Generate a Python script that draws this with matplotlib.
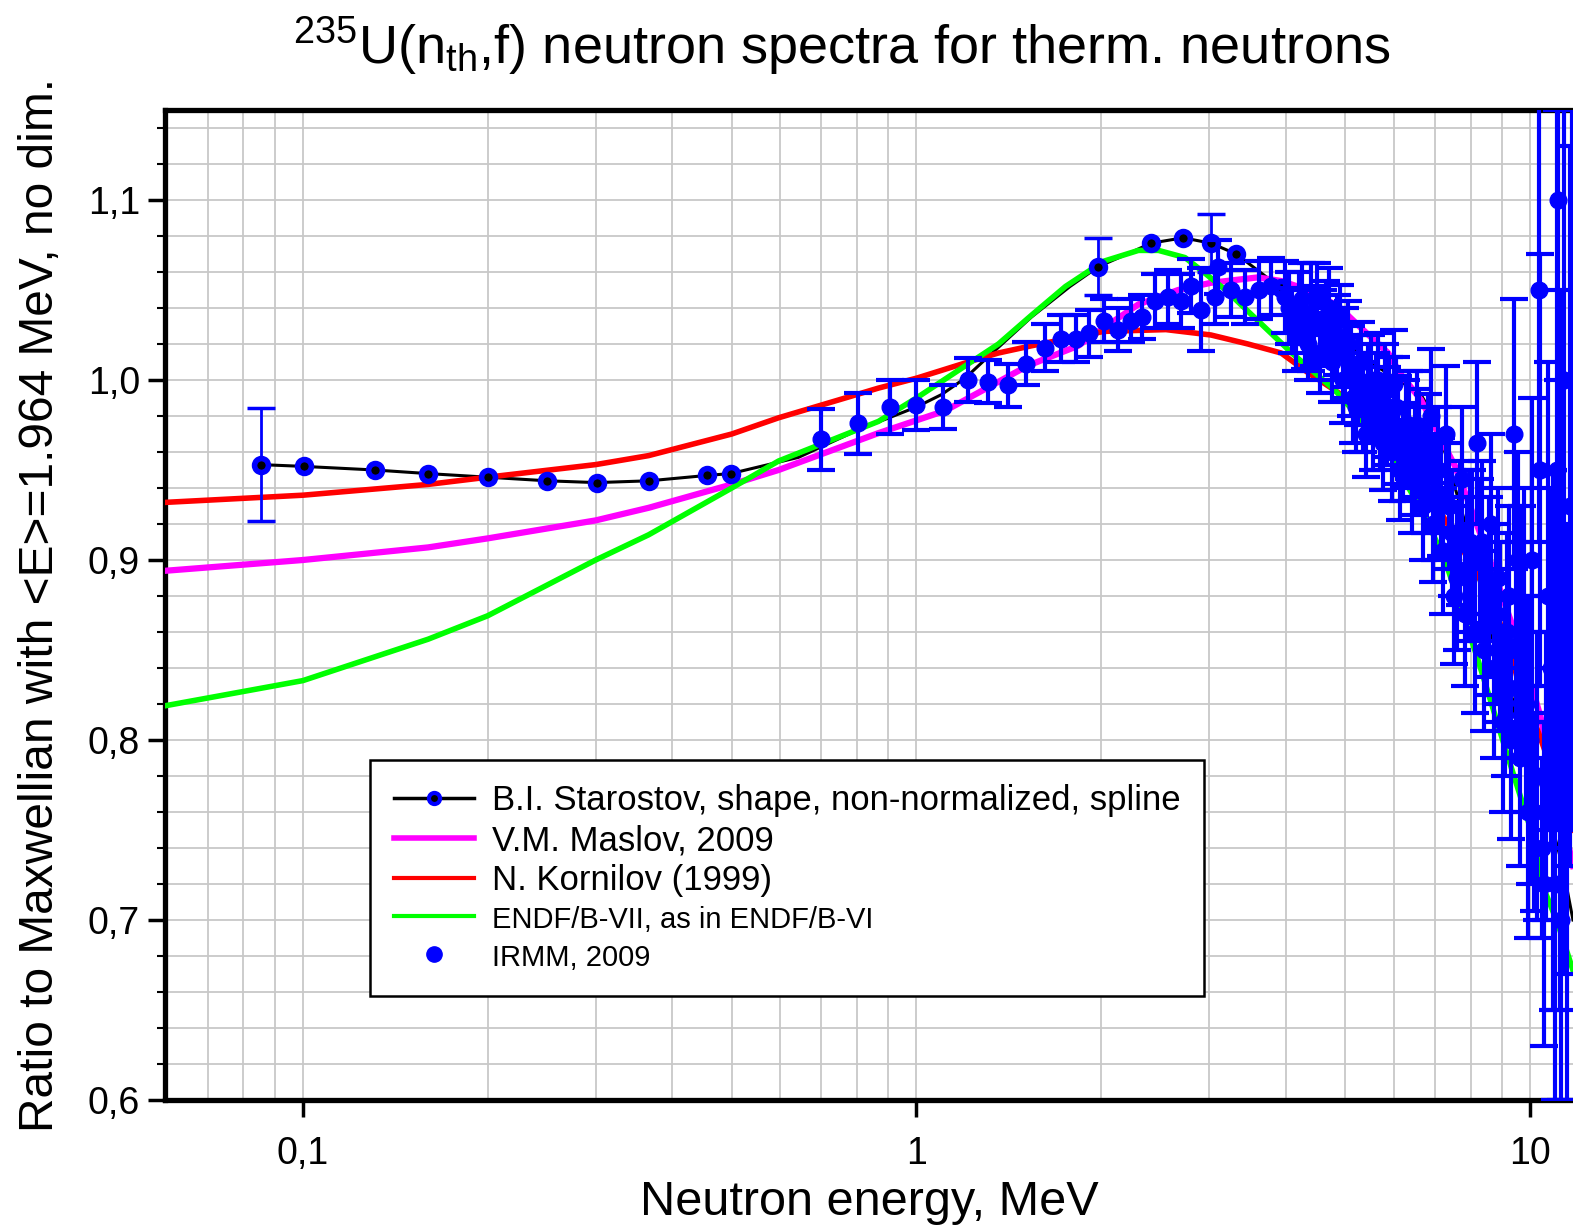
import matplotlib
matplotlib.use("Agg")
import matplotlib.pyplot as plt
from matplotlib.lines import Line2D
from matplotlib.ticker import FixedLocator, MultipleLocator, LogLocator, FuncFormatter, NullFormatter

plt.rcParams['font.family'] = ['Liberation Sans', 'DejaVu Sans']
plt.rcParams['mathtext.fontset'] = 'custom'
plt.rcParams['mathtext.rm'] = 'Liberation Sans'
plt.rcParams['mathtext.it'] = 'Liberation Sans'

# V.M. Maslov, 2009
e_maslov = [0.0596, 0.1, 0.16, 0.2, 0.3, 0.366, 0.5, 0.596, 0.867, 1.115, 1.36, 1.52, 1.835,
            1.98, 2.3, 2.67, 3.02, 3.6, 3.93, 4.35, 4.87, 5.3, 5.87, 6.16, 6.64, 7.55, 8.5,
            9.75, 10.4, 11.3, 11.75]
r_maslov = [0.894, 0.900, 0.907, 0.912, 0.922, 0.929, 0.942, 0.950, 0.9705, 0.983, 0.999, 1.008,
            1.019, 1.027, 1.042, 1.050, 1.054, 1.057, 1.055, 1.050, 1.041, 1.029, 1.015, 1.003,
            0.989, 0.952, 0.905, 0.846, 0.813, 0.756, 0.730]

# N. Kornilov (1999)
e_korn = [0.0596, 0.1, 0.16, 0.2, 0.3, 0.366, 0.5, 0.596, 0.867, 1.0, 1.215, 1.36, 1.54, 2.02,
          2.55, 3.02, 3.47, 3.93, 4.35, 4.87, 5.92, 6.87, 7.28, 8.4, 9.22, 9.6, 10.3, 11.2, 11.75]
r_korn = [0.932, 0.936, 0.942, 0.946, 0.953, 0.958, 0.970, 0.979, 0.9955, 1.001, 1.010, 1.015,
          1.019, 1.027, 1.028, 1.025, 1.020, 1.015, 1.004, 0.993, 0.961, 0.937, 0.922, 0.886,
          0.854, 0.830, 0.805, 0.770, 0.750]

# ENDF/B-VII
e_endf = [0.0596, 0.1, 0.16, 0.2, 0.3, 0.366, 0.5, 0.596, 0.867, 1.0, 1.215, 1.36, 1.54, 1.75,
          2.02, 2.3, 2.48, 2.74, 2.96, 3.19, 3.6, 4.09, 4.82, 5.8, 6.75, 7.28, 7.55, 8.2, 9.1,
          9.95, 10.6, 11.1, 11.75]
r_endf = [0.819, 0.833, 0.856, 0.869, 0.900, 0.914, 0.940, 0.955, 0.977, 0.990, 1.009, 1.020,
          1.036, 1.052, 1.066, 1.072, 1.072, 1.068, 1.059, 1.050, 1.033, 1.015, 0.994, 0.963,
          0.924, 0.899, 0.883, 0.846, 0.796, 0.754, 0.715, 0.698, 0.672]

# B.I. Starostov spline (markers on measured points)
e_star = [0.0853, 0.1003, 0.131, 0.160, 0.200, 0.250, 0.301, 0.367, 0.456, 0.498, 0.642, 0.80,
          1.0, 1.1, 1.2, 1.3, 1.54, 1.78, 1.98, 2.24, 2.41, 2.72, 3.02, 3.32, 3.93, 4.30, 5.16,
          5.6, 6.64, 7.03, 8.0, 8.66, 9.22, 9.5, 9.64, 9.75, 10.4, 11.3, 11.75]
r_star = [0.953, 0.952, 0.950, 0.948, 0.946, 0.944, 0.943, 0.944, 0.947, 0.948, 0.957, 0.972,
          0.985, 0.992, 1.001, 1.012, 1.035, 1.052, 1.063, 1.071, 1.076, 1.079, 1.076, 1.070,
          1.051, 1.037, 1.017, 1.008, 0.992, 0.977, 0.910, 0.857, 0.829, 0.817, 0.806, 0.796,
          0.776, 0.730, 0.700]
star_marked = [0, 1, 2, 3, 4, 5, 6, 7, 8, 9, 18, 20, 21, 22, 23, 24, 32, 33, 34, 35]
e_star_err = [0.0853, 1.98, 3.02]
r_star_err = [0.953, 1.063, 1.076]
d_star_err = [0.0315, 0.016, 0.016]

# IRMM, 2009
e_irmm = [0.700, 0.804, 0.907, 1.0, 1.106, 1.215, 1.31, 1.41, 1.51, 1.62, 1.72, 1.82, 1.91, 2.02,
          2.13, 2.24, 2.33, 2.45, 2.57, 2.70, 2.80, 2.91, 3.07, 3.10, 3.26, 3.43, 3.61, 3.79,
          3.99, 4.1, 4.2, 4.3, 4.4, 4.5, 4.6, 4.7, 4.8, 4.9, 5.0, 5.1, 5.2, 5.3, 5.4, 5.5, 5.6,
          5.7, 5.8, 5.9, 6.0, 6.1, 6.2, 6.35, 6.5, 6.6, 6.75, 6.9, 7.0, 7.15, 7.3, 7.45, 7.6,
          7.75, 7.9, 8.05, 8.2, 8.35, 8.5, 8.65, 8.8, 8.95, 9.1, 9.25, 9.4, 9.55, 9.7, 9.85,
          10.0, 10.15, 10.33, 10.45, 10.6, 10.8, 11.0, 11.1, 11.25, 11.4, 11.6]
r_irmm = [0.967, 0.976, 0.985, 0.986, 0.985, 1.000, 0.999, 0.997, 1.009, 1.018, 1.023, 1.023,
          1.026, 1.033, 1.028, 1.033, 1.035, 1.044, 1.046, 1.044, 1.052, 1.039, 1.046, 1.063,
          1.050, 1.046, 1.050, 1.052, 1.046, 1.033, 1.040, 1.028, 1.035, 1.045, 1.030, 1.040,
          1.020, 1.035, 1.015, 1.005, 0.985, 1.010, 0.970, 1.000, 0.990, 0.975, 0.995, 0.985,
          0.998, 0.972, 0.960, 0.975, 0.955, 0.965, 0.945, 0.980, 0.935, 0.935, 0.970, 0.915,
          0.890, 0.945, 0.895, 0.905, 0.965, 0.910, 0.865, 0.920, 0.870, 0.860, 0.830, 0.880,
          0.970, 0.900, 0.860, 0.820, 0.800, 0.760, 1.050, 0.740, 0.780, 0.840, 0.720, 1.100,
          0.700, 0.790, 0.930]
d_irmm = [0.017, 0.017, 0.015, 0.014, 0.012, 0.012, 0.012, 0.012, 0.012, 0.013, 0.013, 0.013,
          0.013, 0.012, 0.012, 0.012, 0.012, 0.015, 0.015, 0.015, 0.015, 0.023, 0.015, 0.015,
          0.015, 0.015, 0.016, 0.016, 0.020, 0.018, 0.020, 0.022, 0.030, 0.020, 0.020, 0.022,
          0.020, 0.018, 0.025, 0.025, 0.025, 0.022, 0.024, 0.025, 0.025, 0.025, 0.025, 0.028,
          0.030, 0.030, 0.027, 0.030, 0.030, 0.030, 0.030, 0.037, 0.035, 0.033, 0.038, 0.035,
          0.040, 0.040, 0.040, 0.045, 0.045, 0.045, 0.040, 0.050, 0.050, 0.050, 0.050, 0.050,
          0.075, 0.060, 0.070, 0.060, 0.080, 0.055, 0.140, 0.050, 0.080, 0.100, 0.120, 0.100,
          0.100, 0.120, 0.200]

# IRMM, 2009 - further points in the dense high-energy part
e_irmm_hi = [4.05, 4.15, 4.25, 4.35, 4.45, 4.55, 4.65, 4.75, 4.85, 4.95, 5.05, 5.15, 5.25, 5.35,
             5.45, 5.55, 5.65, 5.75, 5.85, 5.95, 6.05, 6.15, 6.28, 6.42, 6.55, 6.68, 6.82, 6.95,
             7.08, 7.22, 7.38, 7.52, 7.68, 7.82, 7.98, 8.12, 8.28, 8.42, 8.58, 8.72, 8.88, 9.02,
             9.18, 9.32, 9.48, 9.62, 9.78, 9.92, 10.08, 10.25, 10.4, 10.55, 10.7, 10.9, 11.05,
             11.2, 11.35, 11.5, 11.7]
r_irmm_hi = [1.040, 1.025, 1.045, 1.020, 1.030, 1.015, 1.035, 1.010, 1.025, 1.000, 1.020, 0.990,
             1.000, 0.985, 0.995, 0.975, 1.000, 0.965, 0.980, 0.960, 0.985, 0.950, 0.970, 0.945,
             0.975, 0.930, 0.960, 0.920, 0.950, 0.905, 0.930, 0.880, 0.915, 0.870, 0.910, 0.860,
             0.900, 0.850, 0.885, 0.840, 0.890, 0.810, 0.860, 0.800, 0.850, 0.790, 0.870, 0.760,
             0.900, 0.780, 0.950, 0.720, 0.880, 0.800, 0.950, 0.850, 1.000, 0.760, 1.000]
d_irmm_hi = [0.020, 0.020, 0.020, 0.020, 0.022, 0.022, 0.020, 0.022, 0.022, 0.024, 0.024, 0.025,
             0.025, 0.025, 0.025, 0.025, 0.026, 0.026, 0.027, 0.027, 0.028, 0.028, 0.030, 0.030,
             0.030, 0.030, 0.032, 0.032, 0.035, 0.035, 0.035, 0.038, 0.040, 0.040, 0.040, 0.045,
             0.045, 0.045, 0.050, 0.050, 0.050, 0.050, 0.055, 0.055, 0.060, 0.060, 0.070, 0.070,
             0.090, 0.080, 0.120, 0.090, 0.130, 0.150, 0.200, 0.200, 0.200, 0.160, 0.250]

x_ticks = [0.1, 1, 10]
x_ticklabels = ['0,1', '1', '10']

fig = plt.figure(figsize=(15.73, 12.30), dpi=100)
ax = fig.add_axes([165 / 1573, 1 - 1100 / 1230, 1408 / 1573, 990 / 1230])

ax.set_xscale('log')
ax.set_xlim(0.0596, 11.75)
ax.set_ylim(0.6, 1.15)

blue = '#0000ff'
ax.plot(e_star, r_star, color='black', lw=2.2, zorder=3)
ax.plot(e_maslov, r_maslov, color='#ff00ff', lw=4.5, zorder=3.2)
ax.plot(e_korn, r_korn, color='#ff0000', lw=4, zorder=3.3)
ax.plot(e_endf, r_endf, color='#00ff00', lw=4, zorder=3.4)
ax.errorbar(e_star_err, r_star_err, yerr=d_star_err, fmt='none', ecolor=blue,
            elinewidth=2, capsize=10, capthick=2.5, zorder=3.5)
ax.plot([e_star[i] for i in star_marked], [r_star[i] for i in star_marked], 'o', ls='none',
        mfc='black', mec=blue, mew=4, ms=10, zorder=3.6)
ax.errorbar(e_irmm_hi, r_irmm_hi, yerr=d_irmm_hi, fmt='o', color=blue, ms=12, elinewidth=3,
            capsize=10, capthick=3, zorder=4)
ax.errorbar(e_irmm, r_irmm, yerr=d_irmm, fmt='o', color=blue, ms=12, elinewidth=3,
            capsize=10, capthick=3, zorder=4)

# grid and ticks
ax.xaxis.set_major_locator(FixedLocator(x_ticks))
ax.xaxis.set_major_formatter(FuncFormatter(lambda v, p: x_ticklabels[x_ticks.index(v)] if v in x_ticks else ''))
ax.xaxis.set_minor_locator(LogLocator(base=10, subs=range(2, 10)))
ax.xaxis.set_minor_formatter(NullFormatter())
ax.yaxis.set_major_locator(MultipleLocator(0.1))
ax.yaxis.set_minor_locator(MultipleLocator(0.02))
ax.yaxis.set_major_formatter(FuncFormatter(lambda v, p: f'{v:.1f}'.replace('.', ',')))
ax.grid(True, which='both', color='#c8c8c8', lw=1.3, zorder=0)
ax.set_axisbelow(True)
ax.tick_params(axis='both', which='major', labelsize=27, direction='out', length=12, width=2.5,
               color='black')
ax.tick_params(axis='x', which='minor', length=0)
ax.tick_params(axis='y', which='minor', direction='out', length=6, width=1.5)
ax.tick_params(axis='x', which='major', pad=14)
ax.tick_params(axis='y', which='major', pad=6)

for s in ['left', 'bottom', 'top']:
    ax.spines[s].set_linewidth(3.8)
ax.spines['right'].set_visible(False)

ax.set_xlabel('Neutron energy, MeV', fontsize=35, labelpad=6)
ax.set_ylabel('Ratio to Maxwellian with <E>=1.964 MeV, no dim.', fontsize=34.5, labelpad=18)
fig.text(0.535, 0.963, r'$^{235}$U(n$_{\rm th}$,f) neutron spectra for therm. neutrons',
         fontsize=39, ha='center', va='center')

handles = [
    Line2D([], [], color='black', lw=2.5, marker='o', mfc='black', mec=blue, mew=3, ms=8),
    Line2D([], [], color='#ff00ff', lw=4),
    Line2D([], [], color='#ff0000', lw=3),
    Line2D([], [], color='#00ff00', lw=3),
    Line2D([], [], color=blue, ls='none', marker='o', ms=11),
]
labels = ['B.I. Starostov, shape, non-normalized, spline', 'V.M. Maslov, 2009',
          'N. Kornilov (1999)', 'ENDF/B-VII, as in ENDF/B-VI', 'IRMM, 2009']
leg = ax.legend(handles, labels, loc='upper left', bbox_to_anchor=(0.1456, 0.3434),
                borderaxespad=0, fontsize=25, frameon=True, fancybox=False, framealpha=1,
                edgecolor='black', handlelength=2.3, handletextpad=0.5, labelspacing=0.2,
                borderpad=0.7)
leg.get_frame().set_linewidth(1.8)
for t in leg.get_texts()[3:]:
    t.set_fontsize(21)

fig.savefig('out.png', dpi=100)
